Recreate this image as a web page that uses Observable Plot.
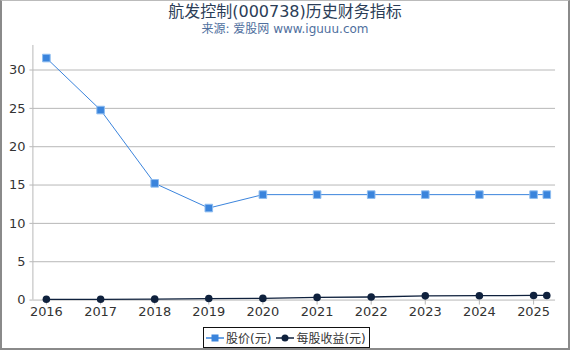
<!DOCTYPE html>
<html><head><meta charset="utf-8">
<script src="https://cdn.jsdelivr.net/npm/d3@7"></script>
<script src="https://cdn.jsdelivr.net/npm/@observablehq/plot@0.6"></script>
<style>
body{margin:0;background:#fff;font-family:"DejaVu Sans","Noto Sans CJK SC",sans-serif;}
#wrap{position:relative;width:570px;height:350px;box-sizing:border-box;border:2px solid #8a8a8a;border-top:1px solid #bbb;overflow:hidden;}
#title{position:absolute;top:-3px;left:0;width:566px;text-align:center;font-size:16px;color:#2b3d57;}
#sub{position:absolute;top:18px;left:0;width:566px;text-align:center;font-size:12px;color:#4f6f9e;}
#chart{position:absolute;top:39px;left:-2px;line-height:0;}
#legend{position:absolute;top:326px;left:201px;height:21px;box-sizing:border-box;border:1px solid #111;padding:0 3px 0 2px;font-size:12px;color:#333;display:flex;align-items:center;white-space:nowrap;background:#fff;}
#legend svg{display:block;margin-right:2px}
</style></head><body>
<div id="wrap">
<div id="title">航发控制(000738)历史财务指标</div>
<div id="sub">来源: 爱股网 www.iguuu.com</div>
<div id="chart"></div>
<div id="legend"></div>
</div>
<script>
const dates = ["2016-01-01","2017-01-01","2018-01-01","2019-01-01","2020-01-01","2021-01-01","2022-01-01","2023-01-01","2024-01-01","2025-01-01","2025-03-31"];
const price = [31.56, 24.78, 15.22, 12.0, 13.75, 13.75, 13.75, 13.75, 13.75, 13.75, 13.75];
const eps = [0.1, 0.1, 0.12, 0.2, 0.22, 0.35, 0.4, 0.55, 0.57, 0.6, 0.6];
const yearTicks = [2016,2017,2018,2019,2020,2021,2022,2023,2024,2025];
const seriesNames = ["股价(元)", "每股收益(元)"];
const colors = ["#3a84dc", "#0f213d"];

const rows = dates.map((d,i)=>({date:new Date(d+"T00:00:00Z"), price:price[i], eps:eps[i]}));
const tickDates = yearTicks.map(y=>new Date(Date.UTC(y,0,1)));
const x0 = new Date("2015-10-02T00:00:00Z"), x1 = new Date("2025-05-29T00:00:00Z");

const plot = Plot.plot({
  width: 570, height: 286,
  marginLeft: 32.5, marginRight: 13, marginTop: 5, marginBottom: 25.5,
  style:{fontFamily:"DejaVu Sans, sans-serif", fontSize:"13px", color:"#333", background:"transparent"},
  x:{type:"utc", domain:[x0, x1], label:null},
  y:{domain:[0,33.2], label:null},
  marks:[
    Plot.gridY([5,10,15,20,25,30], {stroke:"#b8b8b8", strokeOpacity:1, strokeWidth:1}),
    Plot.ruleY([0], {stroke:"#b8b8b8"}),
    Plot.ruleX([x0], {stroke:"#b8b8b8"}),
    Plot.axisX({ticks:tickDates, tickFormat:d=>String(d.getUTCFullYear()), tickSize:5, stroke:"#b8b8b8", tickPadding:2, fill:"#333"}),
    Plot.axisY({ticks:[0,5,10,15,20,25,30], tickSize:3, stroke:"#b8b8b8", tickPadding:4.5, fill:"#333"}),
    Plot.line(rows, {x:"date", y:"price", stroke:colors[0], strokeWidth:1}),
    Plot.dot(rows, {x:"date", y:"price", symbol:"square", r:4.3, fill:colors[0], stroke:"#8fbdf0", strokeWidth:1}),
    Plot.line(rows, {x:"date", y:"eps", stroke:colors[1], strokeWidth:1.3}),
    Plot.dot(rows, {x:"date", y:"eps", r:3.8, fill:colors[1]})
  ]
});
document.getElementById("chart").appendChild(plot);

const leg = document.getElementById("legend");
function sym(color, kind){
  const ns="http://www.w3.org/2000/svg";
  const s=document.createElementNS(ns,"svg");s.setAttribute("width","18");s.setAttribute("height","10");
  const l=document.createElementNS(ns,"line");l.setAttribute("x1","0");l.setAttribute("x2","18");l.setAttribute("y1","5");l.setAttribute("y2","5");l.setAttribute("stroke",color);l.setAttribute("stroke-width","1.5");s.appendChild(l);
  let m;
  if(kind==="sq"){m=document.createElementNS(ns,"rect");m.setAttribute("x","5.5");m.setAttribute("y","1.5");m.setAttribute("width","7");m.setAttribute("height","7");}
  else{m=document.createElementNS(ns,"circle");m.setAttribute("cx","9");m.setAttribute("cy","5");m.setAttribute("r","3.5");}
  m.setAttribute("fill",color);s.appendChild(m);return s;
}
seriesNames.forEach((n,i)=>{
  leg.appendChild(sym(colors[i], i===0?"sq":"ci"));
  const t=document.createElement("span");t.textContent=n;t.style.marginRight=i===0?"5px":"0";leg.appendChild(t);
});
</script>
</body></html>
